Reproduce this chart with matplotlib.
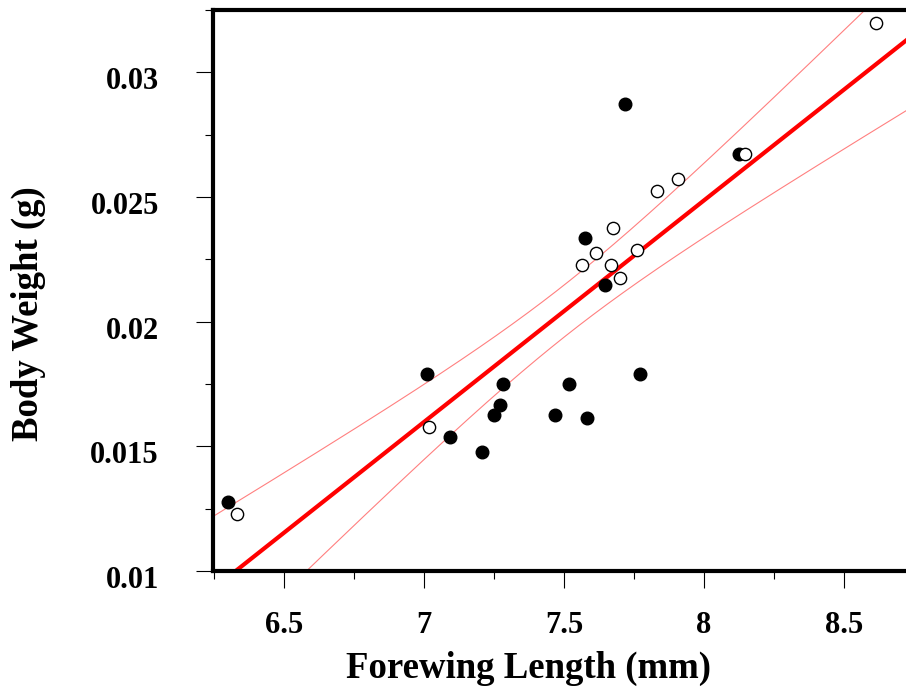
import numpy as np
import matplotlib.pyplot as plt
from matplotlib.ticker import MultipleLocator, FuncFormatter
from matplotlib.transforms import ScaledTranslation

# filled symbols
filled_x = [6.301, 7.010, 7.093, 7.207, 7.248, 7.271, 7.280, 7.468, 7.519,
            7.583, 7.771, 7.573, 7.646, 7.718, 8.126]
filled_y = [0.01278, 0.01789, 0.01538, 0.01477, 0.01625, 0.01665, 0.01752, 0.01626,
            0.01752, 0.01614, 0.01789, 0.02337, 0.02149, 0.02874, 0.02673]

# open symbols
open_x = [6.331, 7.019, 7.563, 7.614, 7.676, 7.667, 7.698, 7.760, 7.833,
          7.905, 8.146, 8.614]
open_y = [0.01227, 0.01576, 0.02226, 0.02275, 0.02375, 0.02226, 0.02175, 0.02287,
          0.02524, 0.02573, 0.02673, 0.03197]

x_ticks = [6.5, 7, 7.5, 8, 8.5]
y_ticks = [0.01, 0.015, 0.02, 0.025, 0.03]
x_range = (6.246, 8.721)
y_range = (0.01, 0.0325)

# linear fit through all points with 95% confidence band of the mean
x_all = np.array(filled_x + open_x)
y_all = np.array(filled_y + open_y)
n = len(x_all)
slope, intercept = np.polyfit(x_all, y_all, 1)
resid = y_all - (slope * x_all + intercept)
s = np.sqrt(np.sum(resid ** 2) / (n - 2))
sxx = np.sum((x_all - x_all.mean()) ** 2)
t_val = 2.060  # t(0.975, 25)
xs = np.linspace(x_range[0], x_range[1], 300)
fit = slope * xs + intercept
half = t_val * s * np.sqrt(1 / n + (xs - x_all.mean()) ** 2 / sxx)

plt.rcParams['font.family'] = ['Liberation Serif', 'DejaVu Serif']
plt.rcParams['font.weight'] = 'bold'

fig = plt.figure(figsize=(9.06, 6.91), dpi=100)
ax = fig.add_axes([213 / 906, 120 / 691, 693 / 906, 561 / 691])

ax.plot(xs, fit, color='red', linewidth=3, zorder=2)
ax.plot(xs, fit + half, color='red', linewidth=0.8, alpha=0.5, zorder=2)
ax.plot(xs, fit - half, color='red', linewidth=0.8, alpha=0.5, zorder=2)

ax.scatter(filled_x, filled_y, s=82, color='black', zorder=3)
ax.scatter(open_x, open_y, s=78, facecolor='white', edgecolor='black',
           linewidth=1.0, zorder=4)

ax.set_xlim(*x_range)
ax.set_ylim(*y_range)
ax.set_xticks(x_ticks)
ax.set_yticks(y_ticks)
ax.xaxis.set_minor_locator(MultipleLocator(0.25))
ax.yaxis.set_minor_locator(MultipleLocator(0.0025))
fmt = FuncFormatter(lambda v, p: f'{v:g}')
ax.xaxis.set_major_formatter(fmt)
ax.yaxis.set_major_formatter(fmt)

ax.tick_params(which='major', direction='out', length=12, width=0.8, labelsize=22)
ax.tick_params(which='minor', direction='out', length=6, width=0.8)
ax.tick_params(axis='x', which='major', pad=17)
ax.tick_params(axis='y', which='major', pad=27)
shift = ScaledTranslation(0, -0.06, fig.dpi_scale_trans)
for lab in ax.get_xticklabels() + ax.get_yticklabels():
    lab.set_fontweight('bold')
for lab in ax.get_yticklabels():
    lab.set_transform(lab.get_transform() + shift)

for side in ['left', 'bottom', 'top']:
    ax.spines[side].set_linewidth(3)
ax.spines['right'].set_visible(False)

fig.text(528 / 906, 13 / 691, 'Forewing Length (mm)', fontsize=26.5,
         fontweight='bold', ha='center', va='baseline')
fig.text(28 / 906, (691 - 314) / 691, 'Body Weight (g)', fontsize=26.5,
         fontweight='bold', rotation=90, ha='center', va='center')

plt.savefig('out.png', dpi=100)
